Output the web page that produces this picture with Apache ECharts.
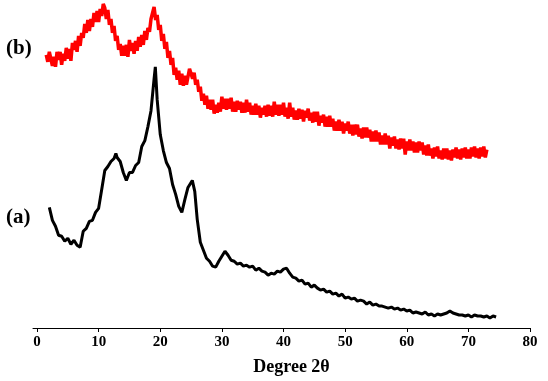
<!DOCTYPE html>
<html>
<head>
<meta charset="utf-8">
<script src="https://cdn.jsdelivr.net/npm/echarts@6/dist/echarts.min.js"></script>
<style>
html,body{margin:0;padding:0;background:#fff;}
#chart{width:548px;height:381px;}
</style>
</head>
<body>
<div id="chart"></div>
<script>
// X-ray diffraction patterns, intensity in arbitrary units (offset stacked)
var xTicks = [0, 10, 20, 30, 40, 50, 60, 70, 80];
var xTitle = 'Degree 2θ';
var labelA = '(a)';
var labelB = '(b)';

// curve (a): [2θ, intensity]
var seriesA = [
[2.0,121],[2.5,108],[3.0,102],[3.5,93],[4.0,92],[4.5,87],[5.0,90],[5.5,84],[6.0,88],[6.5,83],
[7.0,81],[7.5,97],[8.0,100],[8.5,107],[9.0,108],[9.5,116],[10.0,120],[10.5,139],[11.0,158],[11.5,162],
[12.0,167],[12.5,170],[12.8,175],[13.0,171],[13.5,167],[14.0,156],[14.5,148],[15.0,156],[15.5,156],[16.0,163],
[16.5,166],[17.0,182],[17.5,188],[18.0,202],[18.5,218],[19.0,250],[19.2,262],[19.5,229],[20.0,194],[20.5,178],
[21.0,166],[21.5,160],[22.0,144],[22.5,134],[23.0,122],[23.5,116],[24.0,129],[24.5,141],[25.2,148],[25.6,137],
[26.0,109],[26.5,86],[27.0,78],[27.5,70],[28.0,67],[28.5,62],[29.0,61],[29.5,67],[30.0,72],[30.5,77],
[31.0,73],[31.5,68],[32.0,67],[32.5,64],[33.0,65],[33.5,62],[34.0,63],[34.5,61],[35.0,62],[35.5,58],
[36.0,60],[36.5,57],[37.0,56],[37.5,53],[38.0,55],[38.5,54],[39.0,57],[39.5,56],[40.0,59],[40.5,60],
[41.0,55],[41.5,51],[42.0,50],[42.5,47],[43.0,48],[43.5,44],[44.0,45],[44.5,41],[45.0,43],[45.5,40],
[46.0,38],[46.5,39],[47.0,36],[47.5,37],[48.0,34],[48.5,35],[49.0,32],[49.5,34],[50.0,30],[50.5,31],
[51.0,29],[51.5,30],[52.0,27],[52.5,28],[53.0,27],[53.5,24],[54.0,26],[54.5,23],[55.0,24],[55.5,22],
[56.0,22],[56.5,21],[57.0,20],[57.5,21],[58.0,19],[58.5,20],[59.0,18],[59.5,19],[60.0,17],[60.5,18],
[61.0,15],[61.5,16],[62.0,15],[62.5,14],[63.0,16],[63.5,13],[64.0,14],[64.5,12],[65.0,14],[65.5,13],
[66.0,14],[66.5,15],[67.0,17],[67.5,15],[68.0,14],[68.5,13],[69.0,13],[69.5,12],[70.0,13],[70.5,11],
[71.0,13],[71.5,12],[72.0,12],[72.5,11],[73.0,12],[73.5,10],[74.0,12],[74.5,11]
];

// curve (b): intensities sampled every 0.25° from 1.5° to 73°
var bStart = 1.5;
var bStep = 0.25;
var intensityB = [
274,267,277,270,263,272,262,277,269,277,264,275,268,281,270,280,268,286,279,288,
277,293,283,296,291,305,296,309,298,310,302,316,307,318,307,320,313,325,321,310,
319,304,310,296,303,288,293,279,285,273,283,273,284,272,289,278,286,275,288,278,
292,282,294,284,298,289,301,297,310,311,322,309,314,299,304,288,295,280,287,271,
278,264,271,254,261,249,258,244,255,243,253,244,252,260,262,250,256,244,249,237,
242,228,235,224,233,220,229,219,229,215,224,216,226,217,232,220,230,219,230,220,
231,217,227,217,228,219,227,216,226,216,229,217,226,214,223,214,225,214,223,211,
221,214,223,212,224,213,223,212,227,214,224,213,224,214,226,212,221,210,226,212,
221,209,218,209,220,210,219,207,218,211,220,208,216,206,217,207,217,203,213,206,
214,202,212,202,213,202,210,198,207,198,209,198,207,195,205,198,207,195,204,193,
204,194,204,192,200,190,201,191,201,191,199,187,197,187,198,187,196,184,193,184,
195,184,193,180,191,183,192,180,189,179,190,180,190,174,187,178,189,178,187,176,
186,176,187,178,186,174,183,173,184,173,180,170,181,172,182,170,178,169,180,170,
180,169,178,168,179,171,181,170,179,169,180,171,181,170,179,170,181,172,182,171,
180,170,181,172,182,171,179
];
var seriesB = intensityB.map(function (v, i) { return [bStart + i * bStep, v]; });

var chart = echarts.init(document.getElementById('chart'), null, {renderer: 'canvas'});
var serif = '"Liberation Serif", "Times New Roman", serif';
chart.setOption({
  animation: false,
  backgroundColor: '#ffffff',
  grid: {left: 33, right: 18, top: 0, bottom: 52, containLabel: false},
  xAxis: {
    type: 'value',
    min: -0.65,
    max: 80,
    name: xTitle,
    nameLocation: 'middle',
    nameGap: 30,
    nameTextStyle: {fontFamily: serif, fontWeight: 'bold', fontSize: 18, color: '#000', padding: [0, 0, 0, 20]},
    axisLine: {show: true, onZero: false, lineStyle: {color: '#000', width: 1}},
    axisTick: {show: true, customValues: xTicks, length: 4, inside: false, lineStyle: {color: '#000'}},
    axisLabel: {customValues: xTicks, fontFamily: serif, fontWeight: 'bold', fontSize: 15, color: '#000', margin: 7},
    splitLine: {show: false}
  },
  yAxis: {
    type: 'value', min: 0, max: 329, show: false,
    splitLine: {show: false}
  },
  graphic: [
    {type: 'text', left: 6, top: 38, style: {text: labelB, font: 'bold 21px ' + serif, fill: '#000'}},
    {type: 'text', left: 6, top: 207, style: {text: labelA, font: 'bold 21px ' + serif, fill: '#000'}}
  ],
  series: [
    {type: 'line', data: seriesB, showSymbol: false, lineStyle: {color: '#ff0000', width: 3.5}, itemStyle: {color: '#ff0000'}},
    {type: 'line', data: seriesA, showSymbol: false, lineStyle: {color: '#000000', width: 3}, itemStyle: {color: '#000'}}
  ]
});
</script>
</body>
</html>
